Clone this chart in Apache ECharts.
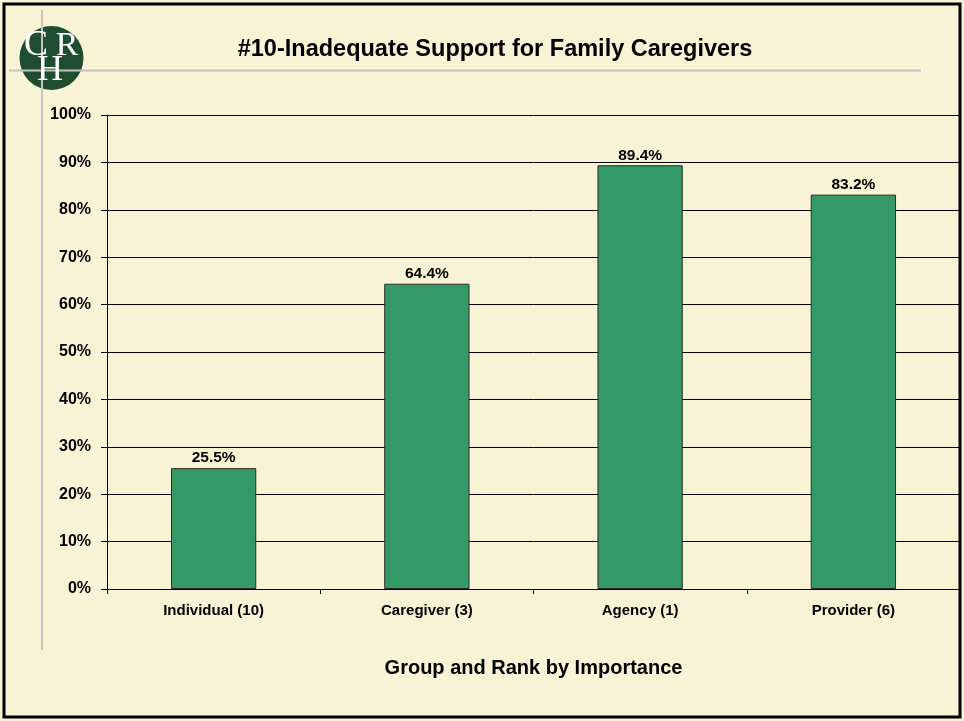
<!DOCTYPE html>
<html>
<head>
<meta charset="utf-8">
<script src="https://cdn.jsdelivr.net/npm/echarts@6/dist/echarts.min.js"></script>
<style>
  html, body { margin: 0; padding: 0; background: #F8F3D4; }
  #chart { width: 964px; height: 721px; }
</style>
</head>
<body>
<div id="chart"></div>
<script>
// Share of respondents rating the issue important, by group (rank in parentheses)
const categories = ['Individual (10)', 'Caregiver (3)', 'Agency (1)', 'Provider (6)'];
const values = [25.5, 64.4, 89.4, 83.2];
const yTicks = [0, 10, 20, 30, 40, 50, 60, 70, 80, 90, 100];

const chart = echarts.init(document.getElementById('chart'), null, { renderer: 'canvas' });

const bold = { fontFamily: '"Liberation Sans", Arial, sans-serif', fontWeight: 'bold', color: '#000' };
const serif = '"Liberation Serif", "DejaVu Serif", serif';

chart.setOption({
  backgroundColor: '#F8F3D4',
  animation: false,
  title: {
    text: '#10-Inadequate Support for Family Caregivers',
    left: 490,
    top: 33,
    textAlign: 'center',
    textStyle: Object.assign({}, bold, { fontSize: 23.5 })
  },
  grid: { left: 107, top: 115, right: 4, bottom: 132, containLabel: false },
  xAxis: {
    type: 'category',
    data: categories,
    boundaryGap: true,
    name: 'Group and Rank by Importance',
    nameLocation: 'middle',
    nameGap: 69,
    nameTextStyle: Object.assign({}, bold, { fontSize: 20 }),
    axisLine: { lineStyle: { color: '#000', width: 1 } },
    axisTick: { show: true, length: 5, lineStyle: { color: '#000' } },
    axisLabel: Object.assign({}, bold, { fontSize: 15, margin: 14 })
  },
  yAxis: {
    type: 'value',
    min: yTicks[0],
    max: yTicks[yTicks.length - 1],
    interval: 10,
    axisLine: { show: true, lineStyle: { color: '#000', width: 1 } },
    axisTick: { show: true, length: 6, lineStyle: { color: '#000' } },
    axisLabel: Object.assign({}, bold, { fontSize: 16, margin: 16, formatter: v => v + '%' }),
    splitLine: { show: true, lineStyle: { color: '#000', width: 1 } }
  },
  series: [{
    type: 'bar',
    data: values,
    barWidth: '40%',
    itemStyle: { color: '#339966', borderColor: '#2b2b2b', borderWidth: 1 },
    label: Object.assign({}, bold, {
      show: true,
      position: 'top',
      distance: 2,
      fontSize: 15.5,
      formatter: p => p.value.toFixed(1) + '%'
    })
  }],
  graphic: [
    // slide frame
    { type: 'rect', shape: { x: 4, y: 4, width: 956, height: 713 },
      style: { fill: 'none', stroke: '#000', lineWidth: 3 }, z: 100 },
    // gray crosshair rules
    { type: 'line', shape: { x1: 42, y1: 10, x2: 42, y2: 650 },
      style: { stroke: '#C4C4C4', lineWidth: 2 }, z: 0 },
    { type: 'line', shape: { x1: 9, y1: 70.5, x2: 921, y2: 70.5 },
      style: { stroke: '#C4C4C4', lineWidth: 2 }, z: 0 },
    // logo badge
    { type: 'circle', shape: { cx: 51.5, cy: 58, r: 32 },
      style: { fill: '#1E4D30' }, z: 1 },
    { type: 'line', shape: { x1: 42, y1: 26, x2: 42, y2: 90 },
      style: { stroke: '#C4C4C4', lineWidth: 2 }, z: 2 },
    { type: 'line', shape: { x1: 20, y1: 70.5, x2: 83, y2: 70.5 },
      style: { stroke: '#C4C4C4', lineWidth: 2 }, z: 2 },
    { type: 'text', x: 36, y: 46, z: 3,
      style: { text: 'C', fill: '#fff', fontFamily: serif, fontSize: 36,
               textAlign: 'center', textVerticalAlign: 'middle' } },
    { type: 'text', x: 67, y: 46, z: 3,
      style: { text: 'R', fill: '#fff', fontFamily: serif, fontSize: 34,
               textAlign: 'center', textVerticalAlign: 'middle' } },
    { type: 'text', x: 50, y: 71, z: 3,
      style: { text: 'H', fill: '#fff', fontFamily: serif, fontSize: 36,
               textAlign: 'center', textVerticalAlign: 'middle' } }
  ]
});
</script>
</body>
</html>
